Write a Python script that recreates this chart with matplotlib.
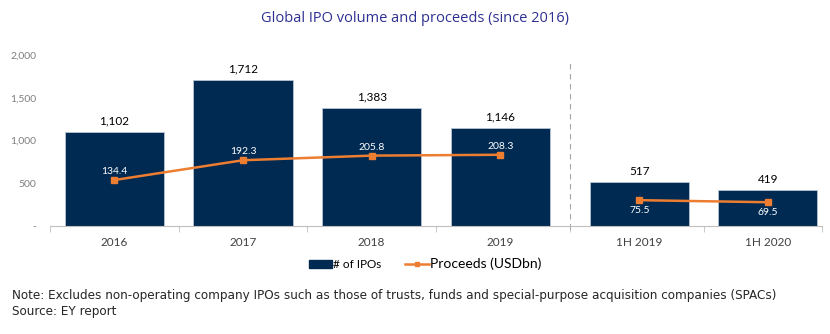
import matplotlib.pyplot as plt
import numpy as np

plt.rcParams['font.family'] = ['Lato', 'DejaVu Sans']

periods = ['2016', '2017', '2018', '2019', '1H 2019', '1H 2020']
ipo_count = [1102, 1712, 1383, 1146, 517, 419]
proceeds = [134.4, 192.3, 205.8, 208.3, 75.5, 69.5]

bar_col = '#002a52'
line_col = '#ed7d31'
grey = '#7f7f7f'

fig = plt.figure(figsize=(8.3, 3.34), dpi=100)
ax = fig.add_axes([50 / 830, 108 / 334, 772 / 830, 171 / 334])
# half-year block sits a little further right, past the divider
x = np.array([0, 1, 2, 3, 4.08, 5.08])
gap = 3.54

ax.bar(x, ipo_count, width=0.77, color=bar_col, edgecolor='#b8c4d4', linewidth=0.6, zorder=2)
for xi, v in zip(x, ipo_count):
    ax.text(xi, v + 60, f'{v:,}', ha='center', va='bottom', fontsize=8.5, color='black')

ax.set_xlim(-0.5, 5.5)
ax.set_ylim(0, 2000)
ax.set_yticks([0, 500, 1000, 1500, 2000])
ax.set_yticklabels(['-', '500', '1,000', '1,500', '2,000'])
ax.tick_params(axis='y', length=0, labelsize=7.5, labelcolor=grey, pad=10)
ax.set_xticks(x)
ax.set_xticklabels(periods)
ax.tick_params(axis='x', length=0, labelsize=8.5, labelcolor='#404040', pad=8)
# small separators between categories
ax.set_xticks([-0.5, 0.5, 1.5, 2.5, gap, 4.58, 5.5], minor=True)
ax.tick_params(axis='x', which='minor', length=4, color='#bfbfbf')
for s in ['top', 'right', 'left']:
    ax.spines[s].set_visible(False)
ax.spines['bottom'].set_color('#bfbfbf')

# dashed divider between full years and half years
ax.axvline(gap, ymin=-0.02, ymax=0.97, color='#a6a6a6', linestyle=(0, (5, 4)), linewidth=0.8,
           clip_on=False)

ax2 = ax.twinx()
ax2.set_ylim(0, 500)
ax2.axis('off')
ax2.plot(x[:4], proceeds[:4], color=line_col, marker='s', markersize=4, linewidth=1.8)
ax2.plot(x[4:], proceeds[4:], color=line_col, marker='s', markersize=4, linewidth=1.8)
for xi, v in zip(x[:4], proceeds[:4]):
    ax2.text(xi, v + 12, f'{v}', ha='center', va='bottom', fontsize=7.5, color='white')
for xi, v in zip(x[4:], proceeds[4:]):
    ax2.text(xi, v - 16, f'{v}', ha='center', va='top', fontsize=7.5, color='white')

fig.text(415 / 830, 1 - 19 / 334, 'Global IPO volume and proceeds (since 2016)', ha='center',
         va='center', fontsize=10.5, color='#2e3192', family=['Open Sans', 'DejaVu Sans'])

# legend
h1 = plt.Rectangle((0, 0), 1, 1, color=bar_col)
h2, = ax.plot([], [], color=line_col, marker='s', markersize=3, linewidth=1.8)
leg = fig.legend([h1, h2], ['# of IPOs', 'Proceeds (USDbn)'], loc='center', ncol=2,
                 bbox_to_anchor=(425 / 830, 1 - 264 / 334), frameon=False, fontsize=8.5,
                 handlelength=2.0, handleheight=0.6, handletextpad=0.1, columnspacing=2.0)
leg.get_texts()[1].set_fontsize(10)

note_font = ['Liberation Sans Narrow', 'DejaVu Sans']
fig.text(12 / 830, 1 - 296 / 334,
         'Note: Excludes non-operating company IPOs such as those of trusts, funds and '
         'special-purpose acquisition companies (SPACs)',
         ha='left', va='center', fontsize=8.65, color='#262626', family=note_font)
fig.text(12 / 830, 1 - 312 / 334, 'Source: EY report', ha='left', va='center', fontsize=8.65,
         color='#262626', family=note_font)

fig.savefig('out.png', dpi=100)
